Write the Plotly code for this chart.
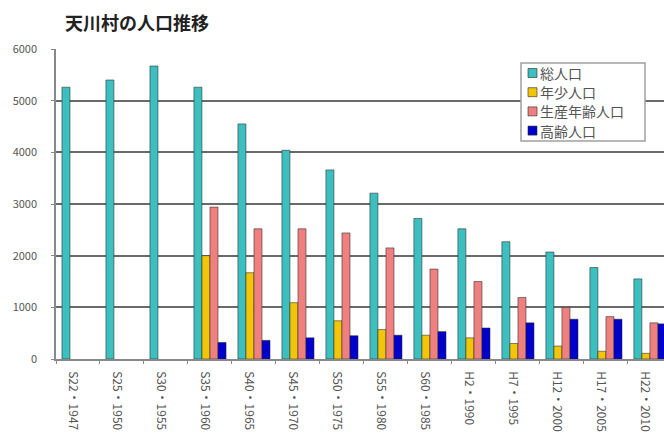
import plotly.graph_objects as go

categories = ["S22・1947", "S25・1950", "S30・1955", "S35・1960", "S40・1965", "S45・1970",
              "S50・1975", "S55・1980", "S60・1985", "H2・1990", "H7・1995", "H12・2000",
              "H17・2005", "H22・2010"]
total = [5260, 5400, 5670, 5260, 4550, 4040, 3660, 3210, 2720, 2520, 2270, 2070, 1770, 1550]
young = [None, None, None, 2000, 1670, 1090, 740, 570, 460, 410, 300, 250, 150, 110]
working = [None, None, None, 2940, 2520, 2520, 2440, 2150, 1740, 1500, 1190, 1000, 820, 700]
elderly = [None, None, None, 320, 360, 410, 450, 460, 530, 600, 700, 770, 770, 680]

names = ["総人口", "年少人口", "生産年齢人口", "高齢人口"]
colors = ["#3cbfbf", "#f2c40a", "#f08080", "#0000cc"]
series = [total, young, working, elderly]

W, H = 664, 439
ML, MR, MT, MB = 56, 0, 49, 80
PW, PH = W - ML - MR, H - MT - MB


def px(x):
    return (x - ML) / PW


def py(y):
    return (H - MB - y) / PH


font = "Noto Sans CJK JP"
fig = go.Figure()
for n, c, v in zip(names, colors, series):
    fig.add_trace(go.Bar(x=categories, y=v, name=n, showlegend=False,
                         marker=dict(color=c, line=dict(color="rgba(40,40,40,0.55)", width=1))))

# legend drawn as box + swatches + labels
shapes = [dict(type="rect", xref="paper", yref="paper", x0=px(521), x1=px(645), y0=py(141), y1=py(63),
               fillcolor="white", line=dict(color="#a0a0a0", width=1.5), layer="above")]
annotations = []
for i, (n, c) in enumerate(zip(names, colors)):
    yc = 73 + i * 19.2
    shapes.append(dict(type="rect", xref="paper", yref="paper", x0=px(528), x1=px(537),
                       y0=py(yc + 4.5), y1=py(yc - 4.5), fillcolor=c,
                       line=dict(color="rgba(40,40,40,0.6)", width=1), layer="above"))
    annotations.append(dict(text=n, xref="paper", yref="paper", x=px(538), y=py(yc),
                            xanchor="left", yanchor="middle", showarrow=False,
                            font=dict(family=font, size=14, color="#555")))

fig.update_layout(
    width=W, height=H,
    margin=dict(l=ML, r=MR, t=MT, b=MB),
    paper_bgcolor="white", plot_bgcolor="white",
    barmode="group", bargap=0.27, bargroupgap=0,
    font=dict(family=font, size=10, color="#444"),
    title=dict(text="<b>天川村の人口推移</b>", x=65 / W, xanchor="left", y=1 - 24 / H, yanchor="middle",
               font=dict(family=font, size=18, color="#222")),
    shapes=shapes, annotations=annotations,
    showlegend=False,
)
fig.update_xaxes(range=[-0.5, 13.32], tickangle=90, showline=True, linecolor="#888", linewidth=1.5,
                 ticks="outside", tickson="boundaries", ticklen=3, tickcolor="#888",
                 ticklabelstandoff=8, ticklabelshift=-5,
                 tickfont=dict(family=font, size=12, color="#555"), showgrid=False)
fig.update_yaxes(range=[0, 6000], dtick=1000, showline=True, linecolor="#888", linewidth=1.5,
                 showgrid=True, gridcolor="#6a6a6a", gridwidth=1.6,
                 ticks="outside", ticklen=3, tickcolor="#888", ticklabelstandoff=12,
                 tickfont=dict(family=font, size=11, color="#555"), zeroline=False)

fig.write_html("out.html")
